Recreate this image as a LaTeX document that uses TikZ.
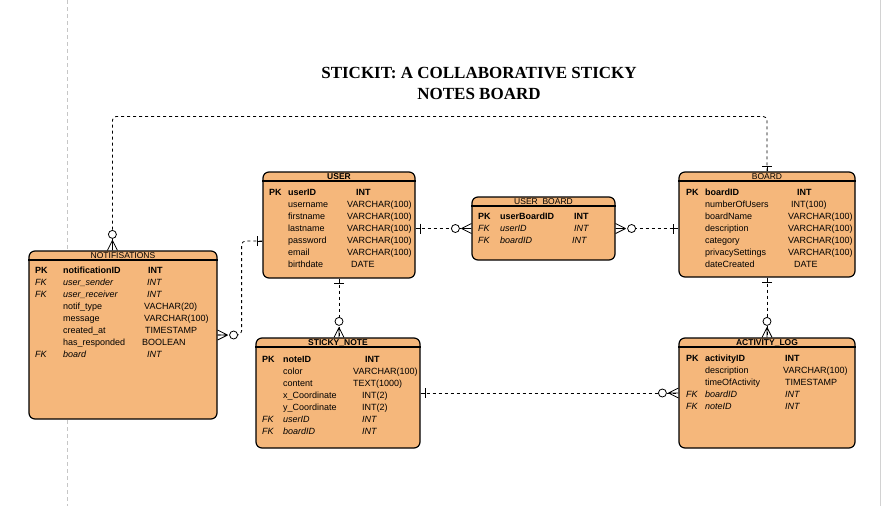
\documentclass[tikz,border=0pt]{standalone}
\usepackage{fontspec}
\setmainfont{Liberation Sans}
\newfontfamily\titlefont{Liberation Serif}
\usetikzlibrary{calc}
\definecolor{entfill}{RGB}{245,183,123}
\newcommand\rowf{\fontsize{9}{11}\selectfont}
\newcommand\erows[5]{%
  \foreach \fk/\fn/\ft/\fx/\fs [count=\i from 0] in {#5}{%
    \node[cell,font=\rowf\fs] (#1-k\i) at (#2,#4+12*\i+3.3) {\fk};
    \node[cell,font=\rowf\fs] (#1-n\i) at (#3,#4+12*\i+3.3) {\fn};
    \node[cell,font=\rowf\fs] (#1-t\i) at (\fx,#4+12*\i+3.3) {\ft};
  }}
\newcommand\zmany[2]{%
  \begin{scope}[shift={(#1)},rotate=#2]
    \draw[endl] (10,0) -- (0,-5) (10,0) -- (0,0) (10,0) -- (0,5);
    \draw[endl,fill=white] (16,0) circle (4pt);
  \end{scope}}
\newcommand\oneb[2]{%
  \begin{scope}[shift={(#1)},rotate=#2]
    \draw[endl] (0,0) -- (5,0);
    \draw[endl] (5,-5) -- (5,5);
  \end{scope}}
\tikzset{
  entity/.style={draw=black, line width=1.2pt, fill=entfill, rounded corners=6pt, inner sep=0pt},
  hdr/.style={font=\fontsize{8.5}{10}\selectfont, anchor=base, inner sep=0pt},
  cell/.style={anchor=base west, inner sep=0pt},
  conn/.style={draw=black, line width=0.8pt, dash pattern=on 3pt off 3pt},
  endl/.style={draw=black, line width=0.8pt, solid},
  hline/.style={draw=black, line width=1.2pt},
}
\begin{document}
\begin{tikzpicture}[x=1pt,y=-1pt]
\useasboundingbox (0,0) rectangle (894,506);
\fill[white] (0,0) rectangle (894,506);
\draw[gray!45, line width=0.8pt, dash pattern=on 4pt off 3pt] (67,0) -- (67,506);
\draw[gray!35, line width=0.6pt] (880,0) -- (880,506);

% title
\node[font=\titlefont\bfseries\fontsize{17}{20.5}\selectfont, align=center, inner sep=0pt] (title) at (479,83.5)
  {STICKIT: A COLLABORATIVE STICKY\\NOTES BOARD};

% entities
\node[entity, minimum width=188pt, minimum height=168pt] (notif) at (123,335) {};
\node[entity, minimum width=152pt, minimum height=106pt] (user) at (339,225) {};
\node[entity, minimum width=143pt, minimum height=63pt] (ub) at (543.5,228.5) {};
\node[entity, minimum width=176pt, minimum height=105pt] (board) at (767,224.5) {};
\node[entity, minimum width=164pt, minimum height=110pt] (sticky) at (338,393) {};
\node[entity, minimum width=176pt, minimum height=110pt] (act) at (767,393) {};

\foreach \e in {notif,user,ub,board,sticky,act}{
  \draw[hline] ($(\e.north west)+(0,9.5)$) -- ($(\e.north east)+(0,9.5)$);
}

\node[hdr] (notif-h) at ($(notif.north)+(0,8)$) {NOTIFISATIONS};
\node[hdr] (user-h) at ($(user.north)+(0,8)$) {\bfseries USER};
\node[hdr] (ub-h) at ($(ub.north)+(0,8)$) {USER\_BOARD};
\node[hdr] (board-h) at ($(board.north)+(0,8)$) {BOARD};
\node[hdr] (sticky-h) at ($(sticky.north)+(0,8)$) {\bfseries STICKY\_NOTE};
\node[hdr] (act-h) at ($(act.north)+(0,8)$) {\bfseries ACTIVITY\_LOG};

\erows{user}{269}{288}{192}{PK/userID/INT/356/\bfseries,
  /username/VARCHAR(100)/347/\mdseries,
  /firstname/VARCHAR(100)/347/\mdseries,
  /lastname/VARCHAR(100)/347/\mdseries,
  /password/VARCHAR(100)/347/\mdseries,
  /email/VARCHAR(100)/347/\mdseries,
  /birthdate/DATE/351/\mdseries}

\erows{ub}{478}{500}{216}{PK/userBoardID/INT/574/\bfseries,
  FK/userID/INT/574/\itshape,
  FK/boardID/INT/572/\itshape}

\erows{board}{686}{705}{192}{PK/boardID/INT/797/\bfseries,
  /numberOfUsers/INT(100)/791/\mdseries,
  /boardName/VARCHAR(100)/788/\mdseries,
  /description/VARCHAR(100)/788/\mdseries,
  /category/VARCHAR(100)/788/\mdseries,
  /privacySettings/VARCHAR(100)/788/\mdseries,
  /dateCreated/DATE/794/\mdseries}

\erows{notif}{35}{63}{270}{PK/notificationID/INT/148/\bfseries,
  FK/user\_sender/INT/147/\itshape,
  FK/user\_receiver/INT/147/\itshape,
  /notif\_type/VACHAR(20)/144/\mdseries,
  /message/VARCHAR(100)/144/\mdseries,
  /created\_at/TIMESTAMP/145/\mdseries,
  /has\_responded/BOOLEAN/142/\mdseries,
  FK/board/INT/147/\itshape}

\erows{sticky}{262}{283}{359}{PK/noteID/INT/365/\bfseries,
  /color/VARCHAR(100)/353/\mdseries,
  /content/TEXT(1000)/353/\mdseries,
  /x\_Coordinate/INT(2)/362/\mdseries,
  /y\_Coordinate/INT(2)/362/\mdseries,
  FK/userID/INT/362/\itshape,
  FK/boardID/INT/362/\itshape}

\erows{act}{686}{705}{358}{PK/activityID/INT/785/\bfseries,
  /description/VARCHAR(100)/783/\mdseries,
  /timeOfActivity/TIMESTAMP/785/\mdseries,
  FK/boardID/INT/785/\itshape,
  FK/noteID/INT/785/\itshape}

% connectors
\coordinate (nTop) at ($(notif.north west)+(84,0)$);
\draw[conn, rounded corners=4pt] (board.north) |- ($(nTop)+(0,-134)$) -- (nTop);
\oneb{board.north}{90}
\zmany{nTop}{90}

\coordinate (uL) at ($(user.west)+(0,16)$);
\draw[conn, rounded corners=4pt] (uL) -| ($(notif.east)+(24,0)$) -- (notif.east);
\oneb{uL}{180}
\zmany{notif.east}{0}

\draw[conn] (user.east |- ub.west) -- (ub.west);
\oneb{user.east |- ub.west}{0}
\zmany{ub.west}{180}

\draw[conn] (ub.east) -- (board.west |- ub.east);
\zmany{ub.east}{0}
\oneb{board.west |- ub.east}{180}

\draw[conn] (user.south) -- (user.south |- sticky.north);
\oneb{user.south}{270}
\zmany{user.south |- sticky.north}{90}

\draw[conn] (board.south) -- (act.north);
\oneb{board.south}{270}
\zmany{act.north}{90}

\draw[conn] (sticky.east) -- (act.west);
\oneb{sticky.east}{0}
\zmany{act.west}{180}
\end{tikzpicture}
\end{document}
